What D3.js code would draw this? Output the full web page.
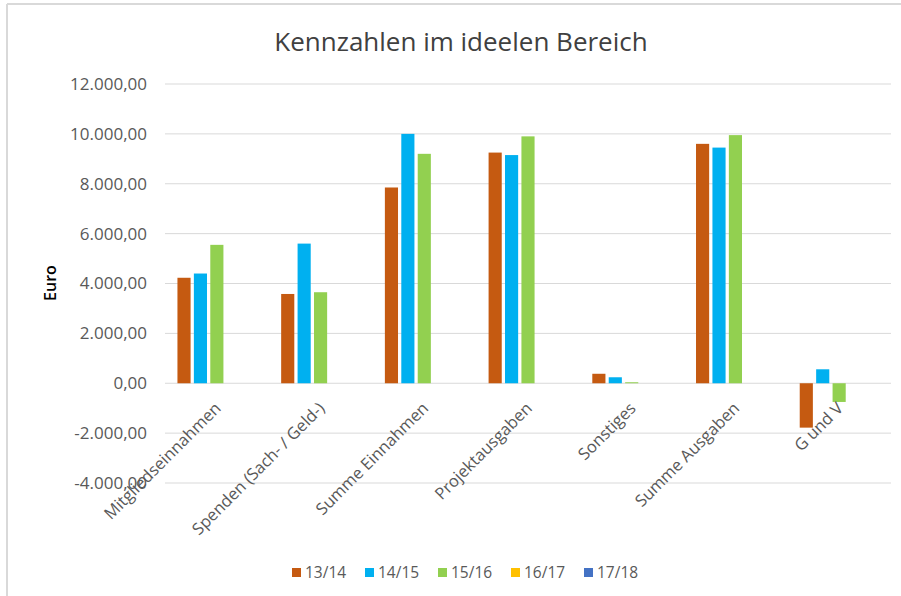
<!DOCTYPE html>
<html>
<head>
<meta charset="utf-8">
<script src="https://cdn.jsdelivr.net/npm/d3@7"></script>
<style>
  body { margin: 0; background: #fff; }
  text { font-family: "Open Sans", "Noto Sans", sans-serif; }
</style>
</head>
<body>
<svg id="chart" width="901" height="596"></svg>
<script>
// categories and the five business years
const categories = ["Mitgliedseinnahmen", "Spenden (Sach- / Geld-)", "Summe Einnahmen",
  "Projektausgaben", "Sonstiges", "Summe Ausgaben", "G und V"];
const years = ["13/14", "14/15", "15/16", "16/17", "17/18"];
const v1314 = [4230, 3580, 7850, 9250, 380, 9600, -1780];
const v1415 = [4400, 5600, 10000, 9150, 240, 9450, 560];
const v1516 = [5550, 3650, 9200, 9900, 40, 9950, -750];
const v1617 = [0, 0, 0, 0, 0, 0, 0];
const v1718 = [0, 0, 0, 0, 0, 0, 0];
const yTicks = [-4000, -2000, 0, 2000, 4000, 6000, 8000, 10000, 12000];
const colors = ["#C55A11", "#00B0F0", "#92D050", "#FFC000", "#4472C4"];

const series = [v1314, v1415, v1516, v1617, v1718];
const svg = d3.select("#chart");

// outer frame (only left / top edge visible in the crop)
svg.append("line").attr("x1", 7).attr("x2", 901).attr("y1", 4).attr("y2", 4)
  .attr("stroke", "#d9d9d9").attr("stroke-width", 2);
svg.append("line").attr("x1", 7).attr("x2", 7).attr("y1", 4).attr("y2", 596)
  .attr("stroke", "#d9d9d9").attr("stroke-width", 2);

const left = 165, right = 891;
const y = d3.scaleLinear().domain([-4000, 12000]).range([483, 84]);
const x0 = d3.scaleBand().domain(categories).range([left, right])
  .paddingInner(0.24).paddingOuter(0.12);
const x1 = d3.scaleBand().domain(years).range([0, x0.bandwidth()]).paddingInner(0.2);

const fmt = v => {
  const s = d3.format(",.2f")(v);
  return s.replace(/,/g, "#").replace(".", ",").replace(/#/g, ".").replace("−", "-");
};

// title
svg.append("text").attr("x", 461).attr("y", 51).attr("text-anchor", "middle")
  .attr("font-size", 26).attr("fill", "#404040").text("Kennzahlen im ideelen Bereich");

// grid + y labels
svg.append("g").selectAll("line").data(yTicks).join("line")
  .attr("x1", left).attr("x2", right)
  .attr("y1", d => y(d)).attr("y2", d => y(d))
  .attr("stroke", "#d9d9d9").attr("stroke-width", 1);
svg.append("g").selectAll("text").data(yTicks).join("text")
  .attr("x", 147).attr("y", d => y(d)).attr("dy", "0.35em")
  .attr("text-anchor", "end").attr("font-size", 17).attr("fill", "#595959")
  .text(fmt);

svg.append("text").attr("transform", "translate(56,283) rotate(-90)")
  .attr("text-anchor", "middle").attr("font-size", 16).attr("font-weight", 600)
  .attr("fill", "#000").text("Euro");

// bars
const groups = svg.append("g").selectAll("g").data(categories).join("g")
  .attr("transform", d => `translate(${x0(d)},0)`);
groups.selectAll("rect")
  .data((d, i) => years.map((yr, j) => ({ yr, v: series[j][i], c: colors[j] })))
  .join("rect")
  .attr("x", d => x1(d.yr))
  .attr("width", x1.bandwidth())
  .attr("y", d => y(Math.max(0, d.v)))
  .attr("height", d => Math.abs(y(d.v) - y(0)))
  .attr("fill", d => d.c);

// category labels, rotated 45 degrees
svg.append("g").selectAll("text").data(categories).join("text")
  .attr("transform", d => `translate(${x0(d) + x0.bandwidth() / 2 + 1},${y(0) + 22}) rotate(-45)`)
  .attr("text-anchor", "end").attr("dy", "0.35em")
  .attr("font-size", 16.5).attr("fill", "#595959")
  .text(d => d);

// legend
const legend = svg.append("g").selectAll("g").data(years).join("g")
  .attr("transform", (d, i) => `translate(${292 + i * 73},573)`);
legend.append("rect").attr("x", 0).attr("y", -5).attr("width", 9).attr("height", 9)
  .attr("fill", (d, i) => colors[i]);
legend.append("text").attr("x", 13).attr("y", 0).attr("dy", "0.35em")
  .attr("font-size", 15.5).attr("fill", "#595959").text(d => d);
</script>
</body>
</html>
